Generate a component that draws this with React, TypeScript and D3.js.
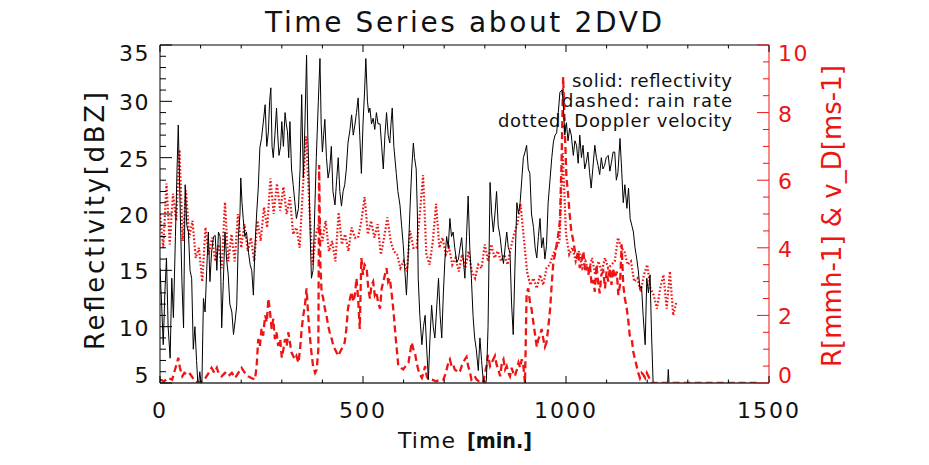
import * as d3 from "d3";
import React from "react";

const WIDTH = 929;
const HEIGHT = 465;
const PLOT = { left: 160, right: 769, top: 45, bottom: 383 };

const RED = "#ee1414";
const FONT = "'DejaVu Sans', sans-serif";

// time [min] , reflectivity [dBZ]  (solid, left axis)
const REFLECTIVITY: [number, number][] = [
  [0, 15.2], [4, 12], [8, 8.4], [12, 13], [16, 16.1], [20, 10], [25, 7.2], [29, 14.3], [33, 10.8], [38, 18],
  [42, 24], [45, 27.9], [50, 20], [54, 14], [58, 9.9], [62, 22.6], [66, 19], [70, 18.4], [74, 15], [78, 14.3],
  [82, 8], [86, 10], [90, 7], [94, 4.5], [98, 6], [103, 4.5], [107, 12.5], [111, 11.3], [115, 15], [119, 18.4],
  [123, 14], [127, 16.6], [132, 18], [136, 18.1], [140, 15], [144, 18.4], [148, 18], [152, 9.9], [156, 14], [160, 18.4],
  [164, 16], [168, 14.6], [172, 12], [177, 11.3], [181, 9.3], [185, 10.5], [189, 11.9], [193, 17.9], [197, 20], [199, 23.2],
  [202, 21], [205, 19.6], [209, 18], [213, 18.4], [218, 16.6], [222, 15.5], [226, 15], [230, 12.8], [234, 17.2], [238, 20],
  [242, 22.3], [246, 25.9], [250, 26.7], [254, 28], [259, 29.7], [263, 26], [267, 27.3], [270, 30], [273, 31.2], [276, 26],
  [279, 25], [283, 27], [287, 29.4], [290, 27], [293, 25.2], [297, 26], [300, 28.2], [304, 26], [308, 29], [311, 28],
  [314, 27.3], [317, 25], [320, 28.2], [324, 24], [328, 22.6], [332, 21.1], [336, 19.6], [341, 20.5], [345, 24], [349, 30.6],
  [353, 23.2], [357, 28], [361, 34.1], [364, 27], [367, 23.2], [370, 18], [373, 14.3], [377, 15], [381, 20], [385, 25],
  [390, 30], [394, 33.8], [397, 28], [400, 25.5], [403, 27], [406, 28.4], [410, 25], [414, 23.2], [418, 24], [422, 26],
  [426, 22], [431, 20.8], [435, 23], [439, 25], [443, 22], [447, 20.7], [451, 22], [455, 22.6], [459, 24], [463, 26.3],
  [468, 27.5], [472, 28.8], [476, 27], [480, 27.9], [484, 29], [488, 30.3], [492, 27], [496, 23.6], [500, 28], [504, 31],
  [507, 33.8], [511, 30], [514, 29], [517, 29.4], [521, 28], [525, 28.5], [529, 27.5], [533, 29], [537, 28], [542, 28],
  [546, 26], [550, 24], [554, 27], [558, 29], [562, 27], [566, 26.3], [569, 28], [572, 29.4], [576, 26], [582, 23.6],
  [586, 22], [591, 20.8], [595, 19], [599, 17.3], [603, 15], [607, 12.8], [611, 16], [616, 20.7], [620, 24], [624, 26.3],
  [627, 25], [631, 24], [634, 20], [636, 14.3], [640, 11], [645, 8.4], [649, 10], [653, 11], [657, 8], [661, 5.3],
  [665, 9], [669, 11.9], [673, 10], [677, 9], [682, 12], [686, 14.3], [690, 11], [694, 9], [698, 13], [702, 16.1],
  [706, 18], [710, 17], [714, 19.6], [718, 18], [722, 18.4], [726, 17], [731, 15.7], [735, 16], [739, 17], [743, 17.9],
  [747, 16], [751, 14.3], [755, 18], [759, 21.6], [763, 17], [767, 14.3], [771, 11], [775, 9], [779, 8], [784, 6.1],
  [788, 9], [792, 7], [796, 5.3], [800, 4.5], [804, 5.3], [808, 10], [813, 22.8], [817, 20], [821, 18.4], [825, 20],
  [829, 22], [833, 19], [838, 17.9], [842, 16.5], [846, 15.6], [850, 17], [854, 18.4], [858, 17], [862, 16.6], [866, 12],
  [870, 9.3], [874, 15], [879, 21], [883, 20], [887, 21], [891, 23], [895, 25], [899, 25.5], [903, 26.1], [907, 24],
  [911, 23.6], [915, 20], [920, 18.8], [924, 17], [928, 16.1], [932, 18], [936, 19.6], [940, 17], [944, 17.9], [948, 16],
  [952, 17.2], [956, 21], [961, 23.2], [965, 25], [969, 26.4], [973, 27], [977, 27.2], [981, 29], [985, 30.8], [990, 31],
  [993, 30], [997, 27], [1001, 28.1], [1005, 26.5], [1009, 27.6], [1013, 27], [1018, 25.2], [1022, 26.5], [1026, 26.1], [1030, 24.5],
  [1034, 27], [1038, 25], [1042, 26.1], [1046, 24], [1050, 24.6], [1054, 25.5], [1058, 23.7], [1062, 22.3], [1066, 24], [1071, 26.1],
  [1075, 25], [1079, 24.3], [1083, 23.5], [1087, 25], [1091, 24], [1095, 24.3], [1099, 25], [1104, 25.2], [1108, 23.8], [1112, 24.6],
  [1116, 25.5], [1120, 25.5], [1124, 23], [1128, 23.7], [1133, 26.7], [1137, 24], [1141, 21], [1145, 22.6], [1150, 20.5], [1154, 22.3],
  [1158, 19.6], [1162, 19], [1166, 18.4], [1170, 17], [1174, 16.1], [1178, 15], [1182, 13.4], [1186, 13.6], [1190, 11], [1195, 8.4],
  [1199, 14.3], [1203, 13], [1207, 14.6], [1211, 9], [1215, 4.5], [1230, 4.5], [1250, 4.8], [1252, 6.2], [1254, 4.8], [1270, 4.5],
];

// time [min] , rain rate [mm/h]  (dashed, right axis)
const RAIN_RATE: [number, number][] = [
  [0, 0.1], [10, 0.05], [20, 0.15], [30, 0.1], [37, 0.4], [42, 0.6], [45, 0.75], [49, 0.45], [55, 0.2], [60, 0.3],
  [66, 0.25], [72, 0.3], [78, 0.2], [86, 0.05], [95, 0], [103, 0.05], [112, 0.15], [120, 0.3], [127, 0.45], [134, 0.3],
  [140, 0.45], [144, 0.3], [152, 0.2], [160, 0.3], [168, 0.2], [177, 0.3], [185, 0.15], [193, 0.3], [201, 0.45], [209, 0.3],
  [217, 0.2], [225, 0.15], [234, 0.1], [238, 0.5], [242, 1.3], [246, 1.1], [250, 1.6], [254, 1.4], [259, 2.0], [263, 1.8],
  [267, 2.5], [271, 2.1], [275, 1.6], [279, 1.9], [283, 1.3], [287, 1.5], [291, 1.1], [296, 1.3], [300, 0.75], [304, 1.0],
  [308, 1.3], [312, 1.1], [316, 1.5], [320, 1.2], [324, 0.9], [328, 0.8], [332, 0.7], [336, 0.8], [341, 0.6], [345, 1.0],
  [349, 1.6], [353, 2.0], [357, 2.3], [361, 2.8], [365, 2.0], [369, 1.4], [373, 0.9], [377, 0.5], [382, 0.3], [386, 0.4],
  [390, 1.0], [392, 6.45], [395, 3.5], [398, 2.7], [402, 2.5], [406, 2.2], [410, 2.0], [414, 1.7], [418, 1.5], [422, 1.35],
  [427, 1.1], [431, 1.0], [435, 0.9], [439, 0.8], [443, 0.9], [447, 1.0], [451, 1.1], [455, 1.2], [459, 1.6], [463, 2.2],
  [468, 2.5], [472, 2.7], [476, 2.4], [480, 2.6], [484, 3.1], [488, 2.5], [492, 1.6], [496, 3.7], [500, 3.2], [504, 3.5],
  [509, 3.4], [513, 2.8], [517, 2.5], [521, 2.9], [525, 3.0], [529, 2.6], [533, 2.7], [537, 2.4], [542, 2.2], [546, 2.8],
  [550, 3.0], [554, 3.2], [558, 3.4], [562, 3.0], [566, 3.1], [569, 2.8], [572, 2.5], [576, 2.0], [580, 1.4], [584, 0.9],
  [587, 0.5], [593, 0.45], [599, 0.4], [605, 0.5], [612, 0.6], [616, 0.9], [620, 1.2], [624, 1.0], [628, 0.9], [632, 0.6],
  [636, 0.4], [640, 0.25], [645, 0.15], [649, 0.3], [653, 0.5], [657, 0.2], [661, 0.1], [670, 0.1], [680, 0.05], [690, 0.1],
  [698, 0.1], [704, 0.3], [710, 0.6], [714, 0.7], [718, 0.5], [722, 0.55], [726, 0.4], [731, 0.35], [735, 0.3], [739, 0.35],
  [743, 0.5], [747, 0.6], [751, 0.7], [755, 0.77], [759, 0.5], [763, 0.35], [767, 0.1], [771, 0.15], [775, 0.2], [780, 0.1],
  [786, 0.05], [792, 0.1], [796, 0.05], [800, 0.25], [804, 0.5], [808, 0.83], [813, 0.5], [817, 0.6], [821, 0.7], [825, 0.8],
  [829, 0.55], [833, 0.4], [838, 0.2], [842, 0.6], [846, 0.7], [850, 0.4], [854, 0.5], [858, 0.3], [862, 0.2], [866, 0.45],
  [870, 0.3], [874, 0.2], [879, 0.4], [883, 0.6], [887, 0.45], [891, 0.7], [895, 0.5], [899, 0.0], [903, 2.65], [907, 2.8],
  [911, 2.4], [915, 2.2], [919, 1.85], [923, 1.5], [928, 1.07], [932, 1.3], [936, 1.4], [940, 1.6], [944, 1.3], [948, 1.07],
  [952, 1.2], [956, 1.6], [961, 2.2], [965, 2.95], [969, 3.6], [973, 3.8], [977, 4.1], [981, 4.4], [985, 4.8], [989, 6.5],
  [993, 9.05], [997, 7.5], [1001, 6.1], [1005, 5.6], [1009, 5.0], [1013, 4.5], [1018, 4.2], [1022, 3.9], [1026, 3.7], [1030, 3.9],
  [1034, 3.4], [1038, 3.6], [1043, 3.9], [1047, 3.3], [1051, 3.45], [1055, 3.2], [1059, 3.5], [1063, 2.9], [1067, 3.05], [1071, 2.7],
  [1075, 3.5], [1079, 3.0], [1083, 2.65], [1087, 3.2], [1092, 3.3], [1096, 2.8], [1100, 3.3], [1104, 3.0], [1108, 3.4], [1112, 2.9],
  [1116, 3.4], [1120, 3.1], [1125, 3.3], [1129, 2.6], [1133, 2.9], [1137, 4.1], [1141, 2.9], [1145, 2.5], [1149, 2.25], [1153, 1.9],
  [1157, 1.4], [1162, 1.3], [1166, 0.9], [1170, 0.7], [1174, 0.5], [1178, 0.3], [1182, 0.15], [1186, 0.3], [1190, 0.25], [1195, 0.15],
  [1199, 0.3], [1203, 0.2], [1207, 0.1], [1211, 0], [1480, 0],
];

// Doppler velocity [m/s], one value every DOPPLER_STEP minutes from t=0 (dotted, right axis)
const DOPPLER_STEP = 8;
const DOPPLER_VELOCITY = [
  5.0, 4.0, 5.9, 4.1, 5.6, 4.8, 6.9, 4.2, 5.7, 4.3, 4.8, 3.7, 4.0, 3.0, 4.6, 3.8, 4.3, 3.6, 4.1, 3.4,
  5.35, 3.6, 4.4, 3.6, 5.0, 4.0, 4.7, 3.9, 4.3, 3.6, 4.8, 4.2, 5.2, 4.6, 6.05, 5.0, 5.9, 5.1, 5.8, 5.0,
  5.5, 4.4, 4.6, 4.0, 5.8, 7.3, 5.2, 3.5, 4.4, 4.75, 4.2, 4.8, 3.9, 4.2, 3.6, 5.05, 4.1, 4.4, 3.9, 4.6,
  4.3, 4.3, 4.8, 5.5, 4.4, 4.8, 4.3, 4.7, 3.8, 4.3, 4.9, 4.2, 3.9, 3.8, 3.4, 3.6, 3.3, 4.5, 4.0, 4.0,
  5.0, 6.15, 3.8, 3.5, 4.2, 5.3, 4.0, 4.3, 3.8, 4.0, 3.5, 3.7, 3.3, 3.8, 3.4, 3.9, 3.3, 3.1, 3.5, 3.4,
  4.1, 3.6, 4.1, 3.7, 3.9, 3.6, 3.8, 3.5, 4.0, 4.4, 4.7, 5.3, 4.3, 3.3, 2.9, 3.1, 2.8, 3.2, 2.9, 3.4,
  3.5, 3.8, 4.0, 4.2, 6.8, 4.4, 3.8, 4.0, 3.6, 3.9, 3.4, 3.6, 3.3, 3.7, 3.2, 3.6, 3.3, 3.7, 3.4, 3.5,
  3.6, 4.3, 4.0, 3.9, 3.5, 3.6, 3.0, 3.1, 2.7, 3.2, 3.5, 2.8, 2.6, 2.2, 2.8, 3.2, 2.2, 3.3, 2.0, 2.4,
];

const X_MAJOR = [0, 500, 1000, 1500];
const LEFT_MAJOR = [5, 10, 15, 20, 25, 30, 35];
const RIGHT_MAJOR = [0, 2, 4, 6, 8, 10];

const LEGEND = ["solid: reflectivity", "dashed: rain rate", "dotted: Doppler velocity"];
const LEGEND_WIDTHS = [160, 170, 234];

// keeps the end labels inside the frame, the way the original plot does
function labelY(py: number) {
  if (py - 9 < PLOT.top) return PLOT.top + 10;
  if (py + 3 > PLOT.bottom - 4) return PLOT.bottom - 6;
  return py + 3;
}

export default function App() {
  const x = d3.scaleLinear().domain([0, 1500]).range([PLOT.left, PLOT.right]);
  const yLeft = d3.scaleLinear().domain([5, 35]).range([PLOT.bottom, PLOT.top]);
  const yRight = d3.scaleLinear().domain([0, 10]).range([PLOT.bottom, PLOT.top]);

  const reflLine = d3
    .line<[number, number]>()
    .x((d) => x(d[0]))
    .y((d) => yLeft(d[1]));
  const rainLine = d3
    .line<[number, number]>()
    .x((d) => x(d[0]))
    .y((d) => yRight(d[1]));
  const dopplerLine = d3
    .line<number>()
    .x((_, i) => x(i * DOPPLER_STEP))
    .y((d) => yRight(d));

  const xMinor = d3.range(0, 1501, 100);
  const leftMinor = d3.range(5, 35.01, 1);
  const rightMinor = d3.range(0, 10.01, 0.5);

  return (
    <svg
      width={WIDTH}
      height={HEIGHT}
      style={{ position: "absolute", left: 0, top: 0, background: "#fff" }}
      fontFamily={FONT}
    >
      <defs>
        <clipPath id="plot-area">
          <rect x={PLOT.left} y={PLOT.top} width={PLOT.right - PLOT.left} height={PLOT.bottom - PLOT.top} />
        </clipPath>
      </defs>

      {/* title */}
      <text x={265} y={32} fontSize={28} textLength={397} lengthAdjust="spacing" fill="#111">
        Time Series about 2DVD
      </text>

      {/* legend text (plotted first, the data lines run over it) */}
      {LEGEND.map((t, i) => (
        <text
          key={t}
          x={732}
          y={87 + i * 20}
          fontSize={18}
          textAnchor="end"
          textLength={LEGEND_WIDTHS[i]}
          lengthAdjust="spacing"
          fill="#111"
        >
          {t}
        </text>
      ))}

      {/* data */}
      <g clipPath="url(#plot-area)" fill="none">
        <path d={dopplerLine(DOPPLER_VELOCITY) ?? ""} stroke={RED} strokeWidth={2.2} strokeDasharray="1.6 2" />
        <path d={rainLine(RAIN_RATE) ?? ""} stroke={RED} strokeWidth={2.3} strokeDasharray="7 4" />
        <path d={reflLine(REFLECTIVITY) ?? ""} stroke="#000" strokeWidth={1} />
      </g>

      {/* frame */}
      <line x1={PLOT.left} x2={PLOT.right} y1={PLOT.top} y2={PLOT.top} stroke="#000" />
      <line x1={PLOT.left} x2={PLOT.right} y1={PLOT.bottom} y2={PLOT.bottom} stroke="#333" strokeWidth={1.6} />
      <line x1={PLOT.left} x2={PLOT.left} y1={PLOT.top} y2={PLOT.bottom} stroke="#000" />
      <line x1={PLOT.right} x2={PLOT.right} y1={PLOT.top} y2={PLOT.bottom} stroke={RED} />

      {/* x ticks, bottom and top */}
      {xMinor.map((v) => {
        const len = X_MAJOR.includes(v) ? 7 : 3.5;
        return (
          <g key={`x${v}`} stroke="#000">
            <line x1={x(v)} x2={x(v)} y1={PLOT.bottom} y2={PLOT.bottom - len} />
            <line x1={x(v)} x2={x(v)} y1={PLOT.top} y2={PLOT.top + len} />
          </g>
        );
      })}
      {X_MAJOR.map((v) => (
        <text key={`xl${v}`} x={x(v)} y={418} fontSize={22} letterSpacing={2} textAnchor="middle" fill="#111">
          {v}
        </text>
      ))}

      {/* left axis */}
      {leftMinor.map((v) => {
        const len = LEFT_MAJOR.includes(v) ? 12 : 6;
        return <line key={`l${v}`} x1={PLOT.left} x2={PLOT.left + len} y1={yLeft(v)} y2={yLeft(v)} stroke="#000" />;
      })}
      {LEFT_MAJOR.map((v) => (
        <text
          key={`ll${v}`}
          x={150}
          y={labelY(yLeft(v))}
          fontSize={22}
          letterSpacing={1.5}
          textAnchor="end"
          dominantBaseline="middle"
          fill="#111"
        >
          {v}
        </text>
      ))}

      {/* right axis */}
      {rightMinor.map((v) => {
        const len = RIGHT_MAJOR.includes(v) ? 12 : 6;
        return <line key={`r${v}`} x1={PLOT.right} x2={PLOT.right - len} y1={yRight(v)} y2={yRight(v)} stroke={RED} />;
      })}
      {RIGHT_MAJOR.map((v) => (
        <text
          key={`rl${v}`}
          x={778}
          y={labelY(yRight(v))}
          fontSize={22}
          letterSpacing={1.5}
          dominantBaseline="middle"
          fill={RED}
        >
          {v}
        </text>
      ))}

      {/* axis titles */}
      <text
        transform="translate(104,221) rotate(-90)"
        fontSize={26}
        textAnchor="middle"
        textLength={258}
        lengthAdjust="spacing"
        fill="#111"
      >
        Reflectivity[dBZ]
      </text>
      <text
        transform="translate(841,216) rotate(-90)"
        fontSize={26}
        textAnchor="middle"
        textLength={302}
        lengthAdjust="spacing"
        fill={RED}
      >
        R[mmh-1] &amp; v_D[ms-1]
      </text>
      <text x={398} y={448} fontSize={22} textLength={57} lengthAdjust="spacing" fill="#111">
        Time
      </text>
      <text x={467} y={448} fontSize={21} fontWeight="bold" textLength={65} lengthAdjust="spacingAndGlyphs" fill="#111">
        [min.]
      </text>
    </svg>
  );
}
